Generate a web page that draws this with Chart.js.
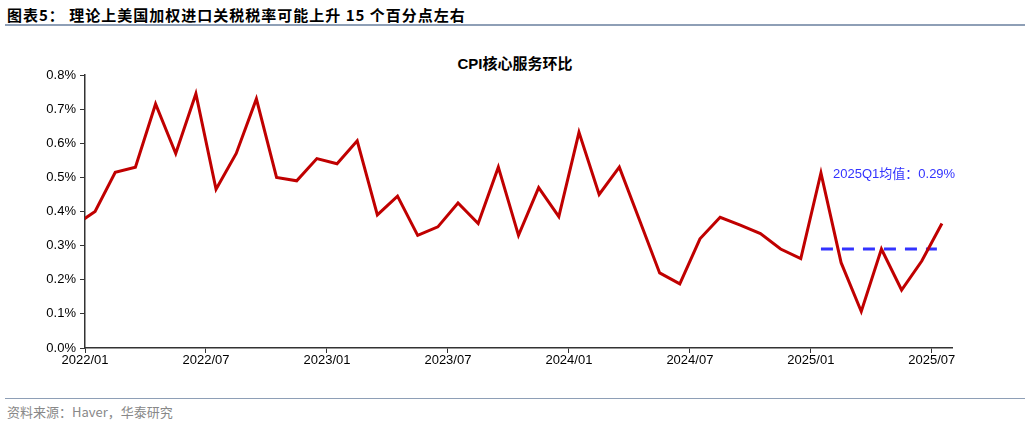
<!DOCTYPE html>
<html>
<head>
<meta charset="utf-8">
<script src="https://cdn.jsdelivr.net/npm/chart.js@4/dist/chart.umd.min.js"></script>
<style>
body { margin: 0; width: 1030px; height: 423px; background: #fff; font-family: "Liberation Sans", Arial, sans-serif; position: relative; overflow: hidden; }
#head { position: absolute; left: 7px; top: 4px; font-size: 15px; font-weight: bold; color: #000; font-family: "Noto Sans CJK SC", sans-serif; letter-spacing: 1px; }
#hline { position: absolute; left: 5px; width: 1020px; top: 24px; height: 2px; background: #8e9fb6; }
#title { position: absolute; left: 0; width: 1030px; top: 52px; text-align: center; font-size: 15px; font-weight: bold; font-family: "Liberation Sans", "Noto Sans CJK SC", sans-serif; }
#fline { position: absolute; left: 5px; width: 1020px; top: 398px; height: 1px; background: #8e9fb6; }
#foot { position: absolute; left: 7px; top: 402px; font-size: 13px; color: #888; font-family: "Noto Sans CJK SC", sans-serif; }
#wrap { position: absolute; left: 0; top: 30px; width: 1030px; height: 360px; }
</style>
</head>
<body>
<div id="head">图表5： 理论上美国加权进口关税税率可能上升 15 个百分点左右</div>
<div id="hline"></div>
<div id="title">CPI核心服务环比</div>
<div id="wrap"><canvas id="chart"></canvas></div>
<div id="fline"></div>
<div id="foot">资料来源：Haver，华泰研究</div>
<script>
// months counted from 2022/01, point sits mid-month
const monthPos = [-0.5, 0.5, 1.5, 2.5, 3.5, 4.5, 5.5, 6.5, 7.5, 8.5, 9.5, 10.5, 11.5, 12.5, 13.5, 14.5,
  15.5, 16.5, 17.5, 18.5, 19.5, 20.5, 21.5, 22.5, 23.5, 24.5, 25.5, 26.5, 27.5, 28.5, 29.5, 30.5,
  31.5, 32.5, 33.5, 34.5, 35.5, 36.5, 37.5, 38.5, 39.5, 40.5, 41.5, 42.5];
const coreServices = [0.36, 0.40, 0.515, 0.53, 0.715, 0.57, 0.745, 0.465, 0.57, 0.73, 0.50, 0.49, 0.555,
  0.54, 0.607, 0.39, 0.445, 0.33, 0.355, 0.425, 0.365, 0.53, 0.33, 0.47, 0.385, 0.632, 0.45, 0.53,
  0.375, 0.22, 0.188, 0.32, 0.383, 0.36, 0.335, 0.29, 0.262, 0.513, 0.25, 0.107, 0.29, 0.17, 0.255, 0.365];
const avgPos = [36.5, 42.25];
const avgValue = [0.29, 0.29];
const avgLabel = '2025Q1均值：0.29%';
const tickMonths = [0, 6, 12, 18, 24, 30, 36, 42];
const tickLabels = ['2022/01', '2022/07', '2023/01', '2023/07', '2024/01', '2024/07', '2025/01', '2025/07'];

const labelPlugin = {
  id: 'avgLabel',
  afterDatasetsDraw(chart) {
    const { ctx, scales } = chart;
    ctx.save();
    ctx.fillStyle = '#3333ff';
    ctx.font = '13px "Liberation Sans", "Noto Sans CJK SC", sans-serif';
    ctx.textBaseline = 'middle';
    ctx.fillText(avgLabel, scales.x.getPixelForValue(37.1), scales.y.getPixelForValue(0.51));
    ctx.restore();
  }
};

const axisCommon = {
  grid: { display: true, drawOnChartArea: false, drawTicks: true, tickLength: 5, color: '#333' },
  border: { display: true, color: '#333', width: 1.5 },
  ticks: { color: '#000', font: { size: 13, family: '"Liberation Sans", Arial, sans-serif' } }
};

new Chart(document.getElementById('chart'), {
  type: 'line',
  data: {
    datasets: [{
      data: monthPos.map((m, i) => ({ x: m, y: coreServices[i] })),
      borderColor: '#c00000',
      borderWidth: 3,
      pointRadius: 0,
      tension: 0
    }, {
      data: avgPos.map((m, i) => ({ x: m, y: avgValue[i] })),
      borderColor: '#3333ff',
      borderWidth: 3,
      borderDash: [12, 9],
      pointRadius: 0
    }]
  },
  options: {
    responsive: true,
    maintainAspectRatio: false,
    animation: false,
    layout: { padding: { top: 45, right: 78, left: 0, bottom: 0 } },
    plugins: { legend: { display: false }, tooltip: { enabled: false } },
    scales: {
      x: {
        ...axisCommon,
        type: 'linear', min: 0, max: 43,
        afterBuildTicks: axis => { axis.ticks = tickMonths.map(v => ({ value: v })); },
        afterFit: axis => { axis.height = 42; },
        ticks: { ...axisCommon.ticks, maxRotation: 0, autoSkip: false, padding: 0,
          callback: v => tickLabels[tickMonths.indexOf(v)] }
      },
      y: {
        ...axisCommon,
        min: 0, max: 0.8,
        afterFit: axis => { axis.width = 85; },
        ticks: { ...axisCommon.ticks, stepSize: 0.1, padding: 4, callback: v => v.toFixed(1) + '%' }
      }
    }
  },
  plugins: [labelPlugin]
});
</script>
</body>
</html>
